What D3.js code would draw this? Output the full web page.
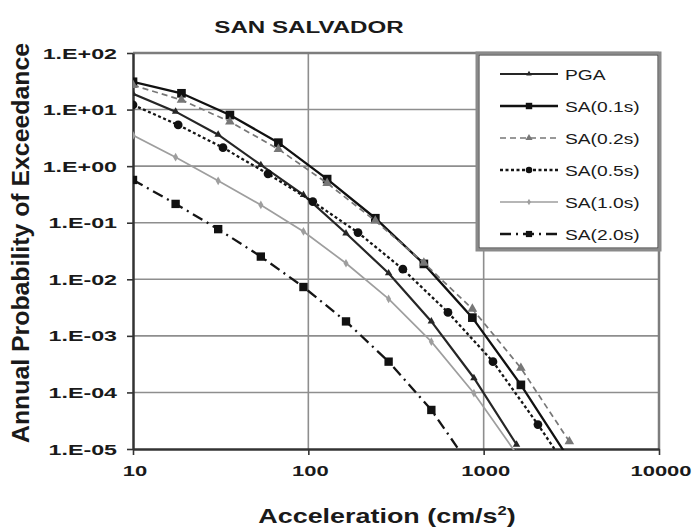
<!DOCTYPE html>
<html>
<head>
<meta charset="utf-8">
<script src="https://cdn.jsdelivr.net/npm/d3@7"></script>
<style>
  html, body { margin: 0; padding: 0; background: #fff; }
  svg { display: block; }
  text { font-family: "Liberation Sans", Arial, sans-serif; fill: #1a1a1a; }
</style>
</head>
<body>
<svg id="chart" width="694" height="531"></svg>
<script>
// Hazard curves for San Salvador: annual probability of exceedance vs acceleration
const chartTitle = "SAN SALVADOR";
const xTitle = "Acceleration (cm/s";
const yTitle = "Annual Probability of Exceedance";

// acceleration levels (cm/s²) at which each curve was evaluated
const accelA = [10, 18.9, 35.7, 67.5, 128, 241, 456, 862, 1630, 3080];
const accelB = [10, 17.5, 30.6, 53.6, 93.8, 164, 287, 503, 880, 1540];
const accelC = [10, 18.1, 32.6, 58.9, 106, 192, 346, 626, 1130, 2040, 3690];

// annual probability of exceedance per spectral ordinate
const pga   = [19, 9.2, 3.6, 1.05, 0.31, 0.065, 0.0128, 0.0018, 1.8e-4, 1.2e-5];
const sa01  = [31, 19.4, 8.0, 2.6, 0.59, 0.12, 0.0187, 0.0021, 1.36e-4, 6.5e-6];
const sa02  = [27, 14.8, 6.1, 2.0, 0.5, 0.108, 0.0195, 0.003, 2.7e-4, 1.36e-5];
const sa05  = [12.1, 5.35, 2.12, 0.73, 0.236, 0.067, 0.0151, 0.0026, 3.5e-4, 2.7e-5, 1.8e-6];
const sa10  = [3.5, 1.44, 0.55, 0.206, 0.07, 0.0192, 0.0045, 7.9e-4, 9.7e-5, 8.2e-6];
const sa20  = [0.57, 0.215, 0.077, 0.0252, 0.0073, 0.0018, 3.5e-4, 4.9e-5, 4.0e-6];

const seriesNames = ["PGA", "SA(0.1s)", "SA(0.2s)", "SA(0.5s)", "SA(1.0s)", "SA(2.0s)"];

const xTicks = [10, 100, 1000, 10000];
const xTickLabels = ["10", "100", "1000", "10000"];
const yTicks = [1e2, 1e1, 1e0, 1e-1, 1e-2, 1e-3, 1e-4, 1e-5];
const yTickLabels = ["1.E+02", "1.E+01", "1.E+00", "1.E-01", "1.E-02", "1.E-03", "1.E-04", "1.E-05"];

const series = [
  { name: seriesNames[0], x: accelB, y: pga,  color: "#262626", width: 2.2, dash: null,        marker: "triangle", msize: 24, mfill: "#262626" },
  { name: seriesNames[1], x: accelA, y: sa01, color: "#111",    width: 2.3, dash: null,        marker: "square",   msize: 75, mfill: "#111" },
  { name: seriesNames[2], x: accelA, y: sa02, color: "#777",    width: 1.7, dash: "6,4",       marker: "triangle", msize: 40, mfill: "#777" },
  { name: seriesNames[3], x: accelC, y: sa05, color: "#151515", width: 2.3, dash: "3,2.5",     marker: "circle",   msize: 60, mfill: "#111" },
  { name: seriesNames[4], x: accelB, y: sa10, color: "#9e9e9e", width: 1.7, dash: null,        marker: "diamond",  msize: 22, mfill: "#9e9e9e" },
  { name: seriesNames[5], x: accelB, y: sa20, color: "#151515", width: 2.3, dash: "11,5,2,5",  marker: "square",   msize: 70, mfill: "#111" }
];

const svg = d3.select("#chart");
const plot = { left: 133, right: 659, top: 53, bottom: 449 };

const x = d3.scaleLog().domain([10, 10000]).range([plot.left, plot.right]);
const y = d3.scaleLog().domain([1e-5, 1e2]).range([plot.bottom, plot.top]);

// text drawn with a horizontal stretch, like the exported sheet
function wideText(g, str, px, py, size, sx, anchor, weight) {
  return g.append("text")
    .attr("transform", `translate(${px},${py}) scale(${sx},1)`)
    .attr("text-anchor", anchor)
    .attr("font-size", size)
    .attr("font-weight", weight || "bold")
    .text(str);
}

// gridlines
const grid = svg.append("g");
grid.selectAll("line.h").data(yTicks.slice(1, -1)).join("line")
  .attr("x1", plot.left).attr("x2", plot.right)
  .attr("y1", d => y(d)).attr("y2", d => y(d))
  .attr("stroke", "#8e8e8e").attr("stroke-width", 1.6);
grid.selectAll("line.v").data(xTicks.slice(1, -1)).join("line")
  .attr("y1", plot.top).attr("y2", plot.bottom)
  .attr("x1", d => x(d)).attr("x2", d => x(d))
  .attr("stroke", "#8e8e8e").attr("stroke-width", 1.6);

// plot frame: grey top/right, dark axes left/bottom
svg.append("line").attr("x1", plot.left).attr("x2", plot.right).attr("y1", plot.top).attr("y2", plot.top)
  .attr("stroke", "#7d7d7d").attr("stroke-width", 2.5);
svg.append("line").attr("x1", plot.right).attr("x2", plot.right).attr("y1", plot.top).attr("y2", plot.bottom)
  .attr("stroke", "#7d7d7d").attr("stroke-width", 2.5);

// axes via d3-axis
const xAxis = d3.axisBottom(x).tickValues(xTicks).tickFormat("").tickSize(6).tickSizeOuter(0);
const yAxis = d3.axisLeft(y).tickValues(yTicks).tickFormat("").tickSize(6).tickSizeOuter(0);
const gx = svg.append("g").attr("transform", `translate(0,${plot.bottom})`).call(xAxis);
const gy = svg.append("g").attr("transform", `translate(${plot.left},0)`).call(yAxis);
[gx, gy].forEach(g => {
  g.select(".domain").attr("stroke", "#333").attr("stroke-width", 2.5);
  g.selectAll(".tick line").attr("stroke", "#333").attr("stroke-width", 1.6);
});

// tick labels
const labels = svg.append("g");
xTicks.forEach((v, i) => wideText(labels, xTickLabels[i], x(v) + 2, plot.bottom + 27, 15.5, 1.42, "middle"));
yTicks.forEach((v, i) => wideText(labels, yTickLabels[i], 117, y(v) + 5.5, 15.5, 1.5, "end"));

// titles
wideText(svg, chartTitle, 309, 33, 17, 1.42, "middle");
const xt = svg.append("text")
  .attr("transform", `translate(387,523) scale(1.38,1)`)
  .attr("text-anchor", "middle").attr("font-size", 19.5).attr("font-weight", "bold");
xt.append("tspan").text(xTitle);
xt.append("tspan").attr("font-size", 12).attr("dy", -8).text("2");
xt.append("tspan").attr("dy", 8).text(")");
svg.append("text")
  .attr("transform", `translate(29,243) rotate(-90) scale(1.08,1)`)
  .attr("text-anchor", "middle").attr("font-size", 23).attr("font-weight", "bold")
  .text(yTitle);

// curves
svg.append("clipPath").attr("id", "plotclip").append("rect")
  .attr("x", plot.left).attr("y", plot.top)
  .attr("width", plot.right - plot.left).attr("height", plot.bottom - plot.top + 1);

const symbolType = { triangle: d3.symbolTriangle, square: d3.symbolSquare, circle: d3.symbolCircle, diamond: d3.symbolDiamond };
const line = d3.line().x(d => x(d[0])).y(d => y(d[1]));
const curves = svg.append("g").attr("clip-path", "url(#plotclip)");

series.forEach(s => {
  const pts = s.x.slice(0, s.y.length).map((v, i) => [v, s.y[i]]);
  curves.append("path").datum(pts)
    .attr("d", line).attr("fill", "none")
    .attr("stroke", s.color).attr("stroke-width", s.width)
    .attr("stroke-dasharray", s.dash);
  curves.selectAll(null).data(pts).join("path")
    .attr("transform", d => `translate(${x(d[0])},${y(d[1])})`)
    .attr("d", d3.symbol(symbolType[s.marker], s.msize))
    .attr("fill", s.mfill);
});

// legend
const lg = svg.append("g");
const lgBox = { x: 477, y: 53, w: 183, h: 197 };
lg.append("rect").attr("x", lgBox.x).attr("y", lgBox.y).attr("width", lgBox.w).attr("height", lgBox.h)
  .attr("fill", "#fff").attr("stroke", "#8a8a8a").attr("stroke-width", 3);
lg.append("rect").attr("x", lgBox.x + 2).attr("y", lgBox.y + 2).attr("width", lgBox.w - 4).attr("height", lgBox.h - 4)
  .attr("fill", "none").attr("stroke", "#333").attr("stroke-width", 1);

const lgY = d3.scalePoint().domain(seriesNames).range([74, 234]);
series.forEach(s => {
  const cy = lgY(s.name);
  lg.append("line").attr("x1", 500).attr("x2", 558).attr("y1", cy).attr("y2", cy)
    .attr("stroke", s.color).attr("stroke-width", s.width).attr("stroke-dasharray", s.dash);
  lg.append("path").attr("transform", `translate(529,${cy})`)
    .attr("d", d3.symbol(symbolType[s.marker], s.msize * 0.55)).attr("fill", s.mfill);
  wideText(lg, s.name, 565, cy + 6, 15.5, 1.24, "start", "normal");
});
</script>
</body>
</html>
